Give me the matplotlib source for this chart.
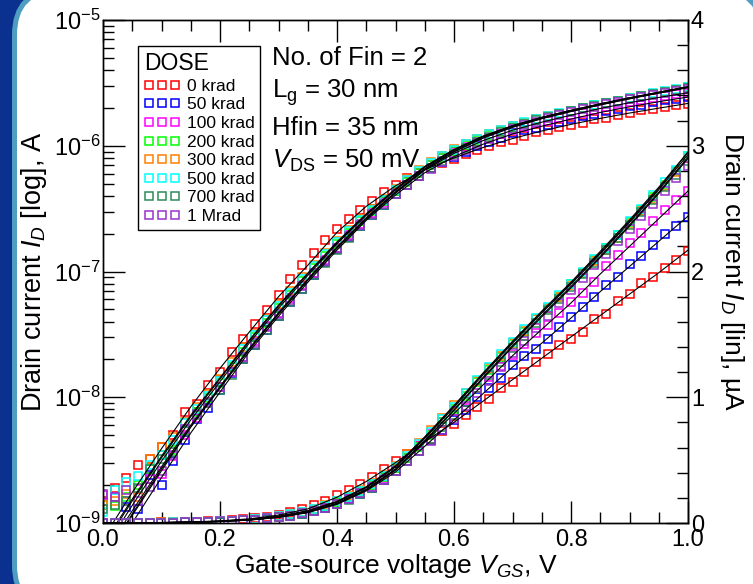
import matplotlib
matplotlib.use("Agg")
import matplotlib.pyplot as plt
from matplotlib.lines import Line2D
from matplotlib.patches import FancyBboxPatch
from matplotlib.transforms import IdentityTransform
from matplotlib.ticker import MultipleLocator, LogLocator, NullFormatter
import numpy as np

plt.rcParams['font.family'] = ['Liberation Sans', 'DejaVu Sans']
plt.rcParams['mathtext.fontset'] = 'custom'
plt.rcParams['mathtext.rm'] = 'Liberation Sans'
plt.rcParams['mathtext.it'] = 'Liberation Sans:italic'
plt.rcParams['mathtext.bf'] = 'Liberation Sans:bold'

# gate voltage of the measured points (V), and of the model curves
vgs = np.round(np.arange(51) * 0.02, 2)
vgs_fit = np.round(np.arange(21) * 0.05, 2)

doses = ["0 krad", "50 krad", "100 krad", "200 krad",
         "300 krad", "500 krad", "700 krad", "1 Mrad"]
colors = ["#ff0000", "#0000ff", "#ff00ff", "#00ff00",
          "#ff7f00", "#00ffff", "#2e8b57", "#9932cc"]

# measured drain current, nA
id_0k = [1.5, 1.9, 2.3, 2.9, 3.2, 4.0, 5.0, 7.6, 8.9, 12.6,
         15.8, 22.9, 28.8, 38.0, 49.0, 64.6, 87.1, 112, 141, 178,
         219, 263, 309, 363, 427, 490, 550, 610, 670, 730,
         790, 860, 925, 990, 1070, 1120, 1200, 1280, 1340, 1415,
         1460, 1520, 1620, 1660, 1765, 1820, 1910, 1960, 2030, 2090,
         2160]
id_50k = [0.8, 0.9, 1.33, 1.3, 2.4, 2.0, 3.1, 4.6, 6.7, 8.2,
          11.5, 15.5, 20, 26, 34, 44, 57, 73, 93, 118,
          150, 188, 232, 282, 340, 410, 490, 575, 660, 740,
          820, 900, 1000, 1070, 1150, 1256, 1330, 1380, 1460, 1556,
          1636, 1720, 1795, 1890, 1960, 2060, 2120, 2210, 2300, 2360,
          2430]
id_100k = [1.67, 1.62, 1.5, 1.86, 2.24, 2.45, 3.4, 5.0, 6.8, 9.0,
           12, 16, 21, 28, 37, 47, 61, 78, 98, 123,
           155, 195, 240, 292, 358, 435, 520, 610, 705, 800,
           890, 980, 1070, 1160, 1250, 1336, 1420, 1510, 1575, 1670,
           1755, 1830, 1920, 2040, 2130, 2230, 2310, 2400, 2490, 2570,
           2640]
id_200k = [1.39, 1.36, 1.6, 2.0, 2.7, 3.5, 3.8, 5.5, 7.6, 9.8,
           13, 17.5, 23, 30, 39, 51, 65, 84, 106, 132,
           166, 204, 250, 302, 364, 435, 515, 605, 700, 800,
           905, 1010, 1120, 1220, 1320, 1420, 1520, 1620, 1710, 1800,
           1900, 1990, 2090, 2190, 2290, 2390, 2490, 2590, 2690, 2800,
           2920]
id_300k = [1.4, 1.5, 1.7, 1.6, 3.2, 4.0, 4.8, 6.3, 8.3, 10.6,
           14, 19, 25, 32, 42, 55, 70, 90, 113, 140,
           176, 214, 262, 315, 380, 455, 545, 640, 740, 835,
           935, 1030, 1130, 1230, 1330, 1430, 1530, 1620, 1710, 1800,
           1890, 1990, 2080, 2170, 2270, 2380, 2480, 2580, 2680, 2790,
           2900]
id_500k = [1.23, 1.83, 2.1, 2.38, 2.9, 3.5, 4.6, 6.2, 8.0, 10.3,
           13.5, 18, 24, 31, 41, 53, 68, 87, 110, 137,
           172, 210, 257, 310, 372, 445, 530, 625, 725, 825,
           925, 1030, 1140, 1240, 1340, 1440, 1540, 1630, 1720, 1810,
           1900, 2000, 2100, 2190, 2290, 2400, 2500, 2610, 2710, 2810,
           2920]
id_700k = [1.3, 1.4, 1.5, 1.9, 2.7, 3.2, 3.7, 5.4, 7.2, 9.0,
           11.5, 15, 20, 26, 34, 44, 57, 73, 93, 117,
           148, 184, 228, 280, 340, 410, 490, 575, 665, 760,
           860, 965, 1070, 1180, 1280, 1390, 1490, 1590, 1690, 1780,
           1880, 1980, 2070, 2170, 2270, 2370, 2470, 2570, 2670, 2770,
           2880]
id_1M = [1.7, 1.6, 1.83, 1.5, 1.95, 2.6, 3.5, 5.6, 7.4, 9.2,
         12, 16, 21, 27, 36, 46, 59, 76, 97, 121,
         153, 190, 235, 285, 345, 415, 490, 570, 655, 740,
         830, 930, 1030, 1130, 1240, 1350, 1450, 1550, 1650, 1750,
         1850, 1950, 2050, 2140, 2240, 2340, 2440, 2540, 2640, 2740,
         2840]

# model fits, nA
fit_0k = [0.75, 1.75, 3.9, 8.4, 17, 33, 63, 112, 205, 330, 480,
          645, 800, 970, 1140, 1310, 1480, 1650, 1820, 1990, 2170]
fit_50k = [0.45, 1.0, 2.3, 5.2, 11, 23, 44, 82, 148, 255, 405,
           610, 820, 1030, 1240, 1430, 1630, 1840, 2040, 2240, 2440]
fit_100k = [0.5, 1.15, 2.6, 5.8, 12, 24, 46, 85, 153, 260, 420,
            640, 870, 1100, 1330, 1540, 1750, 1980, 2200, 2420, 2640]
fit_200k = [0.6, 1.38, 3.1, 6.6, 13.3, 27, 51, 93, 166, 280, 445,
            672, 920, 1180, 1430, 1670, 1900, 2140, 2390, 2650, 2930]
fit_300k = [0.68, 1.55, 3.4, 7.2, 14.3, 28.5, 54, 97, 172, 288, 455,
            685, 935, 1195, 1445, 1685, 1915, 2160, 2410, 2670, 2950]
fit_500k = [0.65, 1.5, 3.3, 7.0, 14, 28, 53, 96, 170, 285, 450,
            680, 930, 1190, 1440, 1680, 1910, 2150, 2400, 2660, 2950]
fit_700k = [0.55, 1.25, 2.8, 6.0, 12.2, 24.5, 47, 87, 157, 268, 430,
            655, 900, 1160, 1410, 1650, 1880, 2120, 2370, 2630, 2910]
fit_1M = [0.5, 1.18, 2.7, 5.8, 11.8, 24, 46, 86, 155, 265, 425,
          650, 895, 1150, 1400, 1640, 1870, 2110, 2360, 2620, 2900]

measured = [id_0k, id_50k, id_100k, id_200k, id_300k, id_500k, id_700k, id_1M]
fits = [fit_0k, fit_50k, fit_100k, fit_200k, fit_300k, fit_500k, fit_700k, fit_1M]

W, H = 753, 584
fig = plt.figure(figsize=(W / 100, H / 100), dpi=100)
fig.patch.set_facecolor("#0a318f")

# white rounded panel with the light blue rim
panel = FancyBboxPatch((14.5, -26), 748, 620,
                       boxstyle="round,pad=0,rounding_size=45",
                       transform=IdentityTransform(), facecolor="white",
                       edgecolor="#4f9ec2", linewidth=3.6, zorder=-1)
fig.patches.append(panel)

ax = fig.add_axes([103 / W, 61 / H, 585 / W, 503 / H])
ax.patch.set_alpha(0)
ax.set_yscale("log")
ax.set_xlim(0, 1.0)
ax.set_ylim(1e-9, 1e-5)
ax2 = ax.twinx()
ax2.set_ylim(0, 4)

mk = dict(ls="none", marker="s", mfc="none", ms=5.5, mew=1.1)
for vals, c in zip(measured, colors):
    vals = np.array(vals)
    ax.plot(vgs, vals * 1e-9, mec=c, **mk)
    ax2.plot(vgs, vals / 1000, mec=c, **mk)
for f in fits:
    f = np.array(f)
    ax.plot(vgs_fit, f * 1e-9, color="k", lw=0.8)
    ax2.plot(vgs_fit, f / 1000, color="k", lw=0.8)

# ticks
ax.xaxis.set_major_locator(MultipleLocator(0.2))
ax.xaxis.set_minor_locator(MultipleLocator(0.05))
ax.xaxis.set_major_formatter(matplotlib.ticker.FormatStrFormatter("%.1f"))
ax.yaxis.set_major_locator(LogLocator(base=10, numticks=10))
ax.yaxis.set_minor_locator(LogLocator(base=10, subs=np.arange(2, 10), numticks=20))
ax.yaxis.set_minor_formatter(NullFormatter())
ax2.yaxis.set_major_locator(MultipleLocator(1))
ax2.yaxis.set_minor_locator(MultipleLocator(0.2))

ax.tick_params(which="both", direction="in", top=True, right=False,
               width=1, labelsize=17, colors="k")
ax.tick_params(which="major", length=16)
ax.tick_params(which="minor", length=8)
ax.tick_params(axis="x", pad=4)
ax.tick_params(axis="y", pad=2)
ax2.tick_params(which="both", direction="in", width=1, labelsize=17, pad=2)
ax2.tick_params(which="major", length=16)
ax2.tick_params(which="minor", length=8)
for a in (ax, ax2):
    for s in a.spines.values():
        s.set_linewidth(1.0)

ax.set_xlabel(r"Gate-source voltage $V_{GS}$, V", fontsize=19, labelpad=1)
ax.set_ylabel(r"Drain current $I_D$ [log], A", fontsize=19.5, labelpad=3)
ax2.set_ylabel(r"Drain current $I_D$ [lin], µA", fontsize=19,
               rotation=270, va="bottom", labelpad=10)

# legend
handles = [Line2D([], [], mec=c, **mk) for c in colors]
leg = ax2.legend(handles, doses, title="DOSE", loc="upper left",
                 bbox_to_anchor=(138 / W, 1 - 46 / H),
                 bbox_transform=fig.transFigure, numpoints=3,
                 fontsize=12.5, title_fontsize=16.5, frameon=True,
                 fancybox=False, edgecolor="k", framealpha=1,
                 borderpad=0.35, labelspacing=0.2, handlelength=2.1,
                 handletextpad=0.35, borderaxespad=0, alignment="left")
leg.get_frame().set_linewidth(1.0)

# device conditions
fs = 18.5
fig.text(272 / W, 1 - 65 / H, "No. of Fin = 2", fontsize=fs, va="baseline")
fig.text(272 / W, 1 - 98 / H, r"L$_{\mathrm{g}}$ = 30 nm", fontsize=fs, va="baseline")
fig.text(272 / W, 1 - 135 / H, "Hfin = 35 nm", fontsize=fs, va="baseline")
fig.text(272 / W, 1 - 168 / H, r"$\mathit{V}_{\mathrm{DS}}$ = 50 mV", fontsize=fs, va="baseline")

fig.savefig("out.png", dpi=100)
